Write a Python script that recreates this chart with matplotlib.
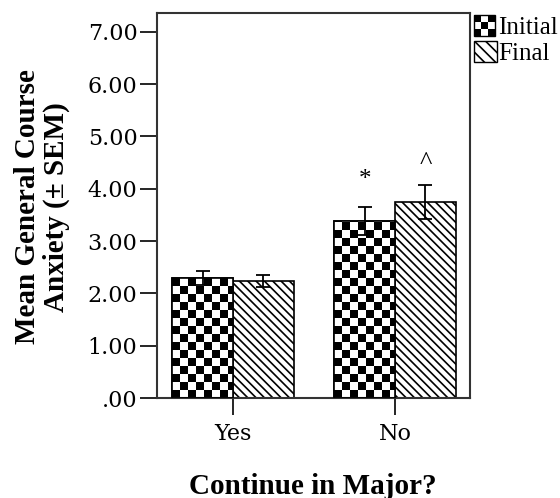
import numpy as np
import matplotlib
matplotlib.use("Agg")
import matplotlib.pyplot as plt
from matplotlib.patches import Rectangle, Patch
from matplotlib.legend_handler import HandlerBase

# data
groups = ["Yes", "No"]
initial_means = [2.29, 3.38]
initial_sem = [0.13, 0.27]
final_means = [2.24, 3.75]
final_sem = [0.12, 0.32]
marks_initial = ["", "*"]
marks_final = ["", "^"]
yticks = [0, 1, 2, 3, 4, 5, 6, 7]
ytick_labels = [".00", "1.00", "2.00", "3.00", "4.00", "5.00", "6.00", "7.00"]

plt.rcParams["hatch.linewidth"] = 1.2
tick_font = "DejaVu Serif"
label_font = "Liberation Serif"

fig = plt.figure(figsize=(5.6, 4.98), dpi=100)
ax = fig.add_axes([157 / 560, 100 / 498, 313 / 560, 385 / 498])

x = np.arange(len(groups))
w = 0.375
ax.set_xlim(-0.469, 1.463)
ax.set_ylim(0, 7.36)

bars_i = ax.bar(x - w / 2, initial_means, w, color="white", edgecolor="black", linewidth=1.2, zorder=2)
bars_f = ax.bar(x + w / 2, final_means, w, color="white", edgecolor="black", linewidth=1.2,
                hatch="\\\\\\\\", zorder=2)

# checkerboard fill for the initial bars, clipped to each bar
cell = 8.0
for r in bars_i:
    x0, y0 = r.get_x(), r.get_y()
    x1, y1 = x0 + r.get_width(), y0 + r.get_height()
    (px0, py0), (px1, py1) = ax.transData.transform([(x0, y0), (x1, y1)])
    nx = int(np.ceil((px1 - px0) / cell))
    ny = int(np.ceil((py1 - py0) / cell))
    board = (np.add.outer(np.arange(ny), np.arange(nx)) % 2).astype(float)
    inv = ax.transData.inverted()
    ex1, ey1 = inv.transform((px0 + nx * cell, py0 + ny * cell))
    im = ax.imshow(board[::-1], cmap="gray", vmin=0, vmax=1, extent=(x0, ex1, y0, ey1),
                   origin="lower", interpolation="nearest", aspect="auto", zorder=2.5)
    im.set_clip_path(r)
    edge = Rectangle((x0, y0), r.get_width(), r.get_height(), fill=False,
                     edgecolor="black", linewidth=1.2, zorder=2.6)
    ax.add_patch(edge)

ax.set_xlim(-0.469, 1.463)
ax.set_ylim(0, 7.36)

ax.errorbar(x - w / 2, initial_means, yerr=initial_sem, fmt="none", ecolor="black",
            elinewidth=1.3, capsize=5, capthick=1.3, zorder=3)
ax.errorbar(x + w / 2, final_means, yerr=final_sem, fmt="none", ecolor="black",
            elinewidth=1.3, capsize=5, capthick=1.3, zorder=3)

for i in range(len(groups)):
    if marks_initial[i]:
        ax.text(x[i] - w / 2, initial_means[i] + initial_sem[i] + 0.52, marks_initial[i],
                ha="center", va="center", fontsize=18, family=label_font)
    if marks_final[i]:
        ax.text(x[i] + w / 2, final_means[i] + final_sem[i] + 0.42, marks_final[i],
                ha="center", va="center", fontsize=19, family=label_font)

ax.set_xticks(x)
ax.set_xticklabels(groups, family=tick_font, fontsize=16)
ax.set_yticks(yticks)
ax.set_yticklabels(ytick_labels, family=tick_font, fontsize=16)
ax.tick_params(axis="x", length=12, width=1.2, pad=6, direction="out")
ax.tick_params(axis="y", length=12, width=1.2, pad=2, direction="out")
for s in ax.spines.values():
    s.set_linewidth(1.5)
    s.set_color("#333333")


class CheckerHandler(HandlerBase):
    def create_artists(self, legend, orig_handle, xdescent, ydescent, width, height, fontsize, trans):
        size = min(width, height)
        x0, y0 = -xdescent, -ydescent + (height - size) / 2
        arts = [Rectangle((x0, y0), size, size, facecolor="white", edgecolor="black",
                          linewidth=1.0, transform=trans)]
        c = size / 3
        for i in range(3):
            for j in range(3):
                if (i + j) % 2 == 0:
                    arts.append(Rectangle((x0 + i * c, y0 + j * c), c, c, facecolor="black",
                                          edgecolor="none", transform=trans))
        return arts


init_handle = Patch(facecolor="white", edgecolor="black")
final_handle = Patch(facecolor="white", edgecolor="black", hatch="\\\\\\")
ax.legend([init_handle, final_handle], ["Initial", "Final"], loc="upper left",
          bbox_to_anchor=(1.013, 0.995), frameon=False, handlelength=0.9, handleheight=0.9,
          handletextpad=0.05, borderaxespad=0, borderpad=0, labelspacing=0.1,
          handler_map={init_handle: CheckerHandler()},
          prop={"family": label_font, "size": 18})

fig.text(42 / 560, 0.585, "Mean General Course\nAnxiety (\u00b1 SEM)", rotation=90,
         ha="center", va="center", multialignment="center", fontsize=21,
         fontweight="bold", family=label_font, linespacing=1.1)
fig.text(313 / 560, 0.024, "Continue in Major?", ha="center", va="center",
         fontsize=21, fontweight="bold", family=label_font)

fig.savefig("out.png", dpi=100)
